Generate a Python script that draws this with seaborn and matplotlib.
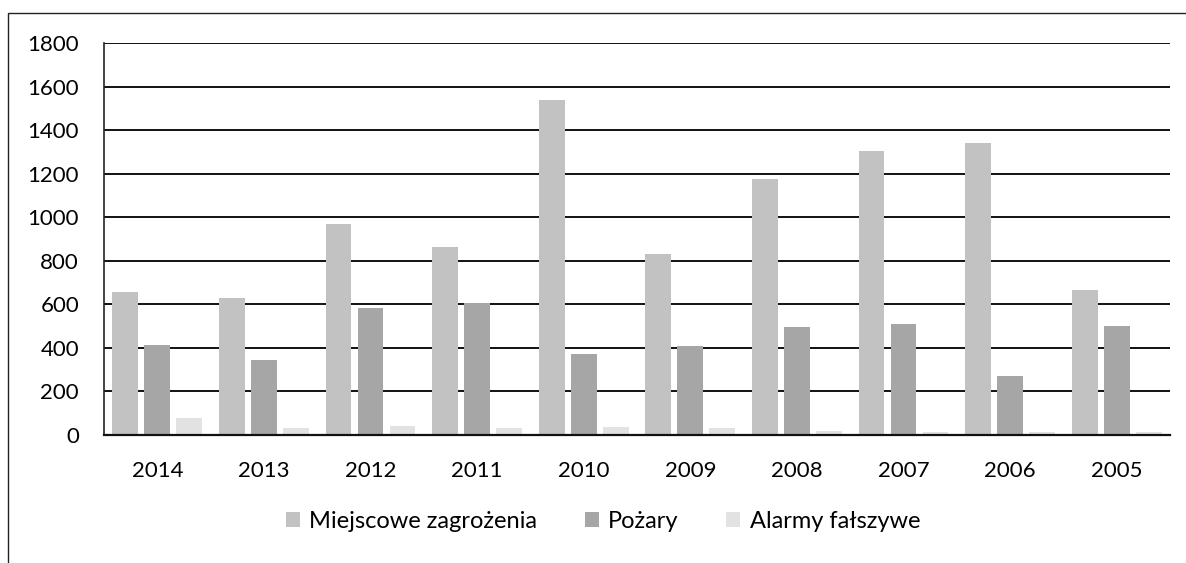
import matplotlib
matplotlib.use("Agg")
import matplotlib.pyplot as plt
import seaborn as sns
import pandas as pd
from matplotlib.patches import Rectangle

years = ["2014", "2013", "2012", "2011", "2010", "2009", "2008", "2007", "2006", "2005"]
miejscowe = [655, 630, 970, 865, 1540, 830, 1175, 1305, 1340, 665]
pozary = [415, 345, 585, 605, 370, 410, 495, 510, 270, 500]
alarmy = [80, 30, 40, 30, 35, 30, 20, 15, 15, 15]
series_names = ["Miejscowe zagrożenia", "Pożary", "Alarmy fałszywe"]
yticks = [0, 200, 400, 600, 800, 1000, 1200, 1400, 1600, 1800]

df = pd.DataFrame({
    "rok": years * 3,
    "seria": [series_names[0]] * 10 + [series_names[1]] * 10 + [series_names[2]] * 10,
    "wartosc": miejscowe + pozary + alarmy,
})

sns.set_theme(style="white")
plt.rcParams["font.family"] = ["Lato", "DejaVu Sans"]
plt.rcParams["text.color"] = "black"
plt.rcParams["xtick.color"] = "black"
plt.rcParams["ytick.color"] = "black"

fig = plt.figure(figsize=(11.86, 5.63), dpi=100)
ax = fig.add_axes([104 / 1186, 1 - 435 / 563, (1170 - 104) / 1186, (435 - 43) / 563])

palette = {series_names[0]: "#c2c2c2", series_names[1]: "#a6a6a6", series_names[2]: "#e2e2e2"}
sns.barplot(data=df, x="rok", y="wartosc", hue="seria", order=years, hue_order=series_names,
            palette=palette, width=0.9, gap=0.19, ax=ax, legend=False, saturation=1,
            linewidth=0)

ax.set_ylim(0, 1800)
ax.set_xlim(-0.5, 9.5)
ax.set_yticks(yticks)
ax.set_yticklabels([str(v) for v in yticks], fontsize=16)
ax.tick_params(axis="x", labelsize=16, pad=19, length=0, labelcolor="black")
ax.tick_params(axis="y", pad=18, length=0, labelcolor="black")
ax.set_xlabel("")
ax.set_ylabel("")
ax.yaxis.grid(True, color="#111111", linewidth=1.4)
ax.set_axisbelow(True)
for s in ["top", "right"]:
    ax.spines[s].set_visible(False)
ax.spines["left"].set_color("#222222")
ax.spines["left"].set_linewidth(1.2)
ax.spines["bottom"].set_color("#111111")
ax.spines["bottom"].set_linewidth(1.6)

handles = [Rectangle((0, 0), 1, 1, facecolor=palette[n], edgecolor="none") for n in series_names]
fig.legend(handles, series_names, loc="center", bbox_to_anchor=(603 / 1186, 1 - 521 / 563),
           ncol=3, frameon=False, fontsize=17, handlelength=0.6, handleheight=0.6,
           handletextpad=0.4, columnspacing=2.0)

border = Rectangle((8 / 1186, -0.05), 1.1, 1 - 13 / 563 + 0.05, transform=fig.transFigure,
                   fill=False, edgecolor="#222222", linewidth=1.0)
fig.patches.append(border)

fig.savefig("out.png", dpi=100, facecolor="white")
